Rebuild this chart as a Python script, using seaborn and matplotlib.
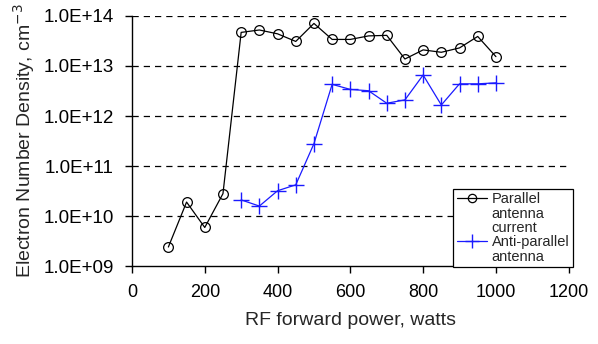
import numpy as np
import pandas as pd
import matplotlib
matplotlib.use("Agg")
import matplotlib.pyplot as plt
import seaborn as sns
from matplotlib.lines import Line2D
from matplotlib.ticker import FixedLocator, NullLocator

# RF forward power (W) and measured electron densities (cm^-3)
power_parallel = [100, 150, 200, 250, 300, 350, 400, 450, 500, 550, 600,
                  650, 700, 750, 800, 850, 900, 950, 1000]
density_parallel = [2.4e9, 1.9e10, 5.9e9, 2.8e10, 4.7e13, 5.25e13, 4.4e13,
                    3.1e13, 7.1e13, 3.4e13, 3.4e13, 4.0e13, 4.1e13, 1.38e13,
                    2.1e13, 1.88e13, 2.3e13, 3.9e13, 1.54e13]

power_anti = [300, 350, 400, 450, 500, 550, 600, 650, 700, 750, 800, 850,
              900, 950, 1000]
density_anti = [2.1e10, 1.58e10, 3.2e10, 4.2e10, 2.8e11, 4.3e12, 3.4e12,
                3.2e12, 1.8e12, 2.1e12, 6.6e12, 1.66e12, 4.4e12, 4.4e12,
                4.6e12]

legend_lines = [["Parallel", "antenna", "current"], ["Anti-parallel", "antenna"]]
y_ticks = [1e9, 1e10, 1e11, 1e12, 1e13, 1e14]
y_tick_labels = ["1.0E+09", "1.0E+10", "1.0E+11", "1.0E+12", "1.0E+13", "1.0E+14"]
x_ticks = [0, 200, 400, 600, 800, 1000, 1200]

sns.set_style("white")
plt.rcParams["font.family"] = ["Liberation Sans", "DejaVu Sans"]

df_par = pd.DataFrame({"power": power_parallel, "density": density_parallel})
df_anti = pd.DataFrame({"power": power_anti, "density": density_anti})

fig = plt.figure(figsize=(5.98, 3.44), dpi=100)
ax = fig.add_axes([0.2207, 0.2267, 0.951 - 0.2207, 0.9535 - 0.2267])

blue = "#1a1aff"
sns.lineplot(data=df_par, x="power", y="density", ax=ax, color="black",
             linewidth=0.9, marker="o", markersize=7, markerfacecolor="none",
             markeredgecolor="black", markeredgewidth=0.9, legend=False)
sns.lineplot(data=df_anti, x="power", y="density", ax=ax, color=blue,
             linewidth=0.9, marker="+", markersize=11, markeredgewidth=1.0,
             markeredgecolor=blue, legend=False)

ax.set_yscale("log")
ax.set_ylim(1e9, 1e14)
ax.set_xlim(0, 1200)
ax.yaxis.set_major_locator(FixedLocator(y_ticks))
ax.yaxis.set_minor_locator(NullLocator())
ax.set_yticklabels(y_tick_labels)
ax.xaxis.set_major_locator(FixedLocator(x_ticks))
ax.set_xticklabels([str(t) for t in x_ticks])

for yv in y_ticks[1:]:
    ax.axhline(yv, color="black", linewidth=0.9, linestyle=(0, (5, 4)), zorder=0.5)

for side in ["top", "right"]:
    ax.spines[side].set_visible(False)
for side in ["left", "bottom"]:
    ax.spines[side].set_color("black")
    ax.spines[side].set_linewidth(1.0)

ax.tick_params(axis="both", which="major", direction="out", length=5,
               width=1.0, color="black", labelcolor="black",
               left=True, bottom=True)
ax.tick_params(axis="y", pad=8, labelsize=13.5)
ax.tick_params(axis="x", pad=8, labelsize=13)

ax.set_xlabel("RF forward power, watts", fontsize=14, labelpad=8)
ax.set_ylabel("Electron Number Density, cm$^{-3}$", fontsize=14, labelpad=5)

# Legend: each wrapped label line is its own row, marker only on the first
blank = Line2D([], [], color="none")
h_par = Line2D([], [], color="black", linewidth=0.9, marker="o", markersize=6,
               markerfacecolor="none", markeredgewidth=0.9)
h_anti = Line2D([], [], color=blue, linewidth=0.9, marker="+", markersize=10,
                markeredgewidth=1.0)
handles, texts = [], []
for h, lines in zip([h_par, h_anti], legend_lines):
    for i, line in enumerate(lines):
        handles.append(h if i == 0 else blank)
        texts.append(line)

leg = ax.legend(handles, texts, loc="lower right", bbox_to_anchor=(1.01, -0.005),
                fontsize=10.5, frameon=True, fancybox=False, framealpha=1,
                edgecolor="black", handlelength=2.1, handletextpad=0.3,
                labelspacing=0.02, borderpad=0.25, borderaxespad=0)
leg.get_frame().set_linewidth(0.9)

fig.savefig("out.png", dpi=100)
